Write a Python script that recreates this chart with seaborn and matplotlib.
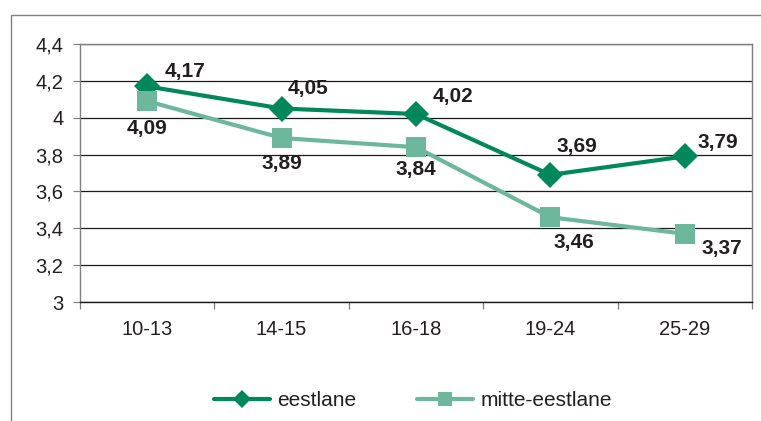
import pandas as pd
import numpy as np
import matplotlib
matplotlib.use("Agg")
import matplotlib.pyplot as plt
import seaborn as sns
from matplotlib.lines import Line2D
from matplotlib.ticker import FuncFormatter, FixedLocator

# andmed
vanused = ['10-13', '14-15', '16-18', '19-24', '25-29']
eestlane = [4.17, 4.05, 4.02, 3.69, 3.79]
mitte_eestlane = [4.09, 3.89, 3.84, 3.46, 3.37]
grupid = ['eestlane', 'mitte-eestlane']

df = pd.DataFrame({
    'vanus': vanused * 2,
    'hinne': eestlane + mitte_eestlane,
    'grupp': [grupid[0]] * len(vanused) + [grupid[1]] * len(vanused),
})

varvid = {'eestlane': '#00875a', 'mitte-eestlane': '#6db89d'}
tekst = '#231f20'

sns.set_style('white')
plt.rcParams['font.family'] = ['Liberation Sans', 'DejaVu Sans']

fig = plt.figure(figsize=(7.61, 4.21), dpi=100)
ax = fig.add_axes([80 / 761, 1 - 302 / 421, (752 - 80) / 761, (302 - 44) / 421])

sns.lineplot(data=df, x='vanus', y='hinne', hue='grupp', style='grupp',
             markers={'eestlane': 'D', 'mitte-eestlane': 's'}, dashes=False,
             palette=varvid, linewidth=3, markersize=13, markeredgewidth=0,
             ax=ax, legend=False, zorder=3)
# suurendame ruudu markerit
for ln in ax.lines:
    if ln.get_marker() == 's':
        ln.set_markersize(14.5)

ax.set_ylim(3, 4.4)
ax.set_xlim(-0.5, len(vanused) - 0.5)
ax.set_yticks(np.arange(3, 4.41, 0.2))
ax.yaxis.set_major_formatter(FuncFormatter(lambda v, p: f'{round(v, 1):g}'.replace('.', ',')))
ax.grid(axis='y', color='#1a1a1a', linewidth=0.9)
ax.set_axisbelow(True)

# x teljel kriipsud kategooriate vahel, sildid keskel
ax.xaxis.set_major_locator(FixedLocator(np.arange(-0.5, len(vanused), 1.0)))
ax.xaxis.set_major_formatter(FuncFormatter(lambda v, p: ''))
ax.xaxis.set_minor_locator(FixedLocator(np.arange(len(vanused))))
ax.set_xticklabels(vanused, minor=True)
ax.tick_params(axis='x', which='major', bottom=True, length=5, width=0.9, color='#808080', direction='out')
ax.tick_params(axis='x', which='minor', bottom=True, length=0, pad=13, labelsize=14.5, labelcolor=tekst)
ax.tick_params(axis='y', left=True, length=5, width=0.9, color='#808080', pad=7, labelsize=14.5, labelcolor=tekst)
ax.set_xlabel('')
ax.set_ylabel('')

for side in ['top', 'right', 'left']:
    ax.spines[side].set_color('#808080')
    ax.spines[side].set_linewidth(1)
ax.spines['bottom'].set_color('#1a1a1a')
ax.spines['bottom'].set_linewidth(1)

# väärtuste sildid
nihked_e = [(38, 15), (26, 20), (37, 18), (26, 28), (33, 14)]
nihked_m = [(0, -27), (0, -26), (0, -22), (23, -25), (37, -15)]
for i, v in enumerate(eestlane):
    ax.annotate(f'{v:.2f}'.replace('.', ','), (i, v), xytext=nihked_e[i],
                textcoords='offset pixels', ha='center', va='center',
                fontsize=15, fontweight='bold', color=tekst)
for i, v in enumerate(mitte_eestlane):
    ax.annotate(f'{v:.2f}'.replace('.', ','), (i, v), xytext=nihked_m[i],
                textcoords='offset pixels', ha='center', va='center',
                fontsize=15, fontweight='bold', color=tekst)

# legend
kasitsed = [
    Line2D([], [], color=varvid['eestlane'], marker='D', linewidth=3, markersize=9, markeredgewidth=0),
    Line2D([], [], color=varvid['mitte-eestlane'], marker='s', linewidth=3, markersize=10, markeredgewidth=0),
]
leg = fig.legend(kasitsed, grupid, loc='center', bbox_to_anchor=(413 / 761, 1 - 401 / 421),
                 ncol=2, frameon=False, fontsize=15, handlelength=2.7,
                 handletextpad=0.35, columnspacing=2.9)
for t in leg.get_texts():
    t.set_color(tekst)

# joonise raam (ülemine ja vasak serv)
fig.add_artist(Line2D([11 / 761, 11 / 761, 1.0], [0, 1 - 15 / 421, 1 - 15 / 421],
                      transform=fig.transFigure, color='#808080', linewidth=1))

fig.savefig('out.png', dpi=100)
